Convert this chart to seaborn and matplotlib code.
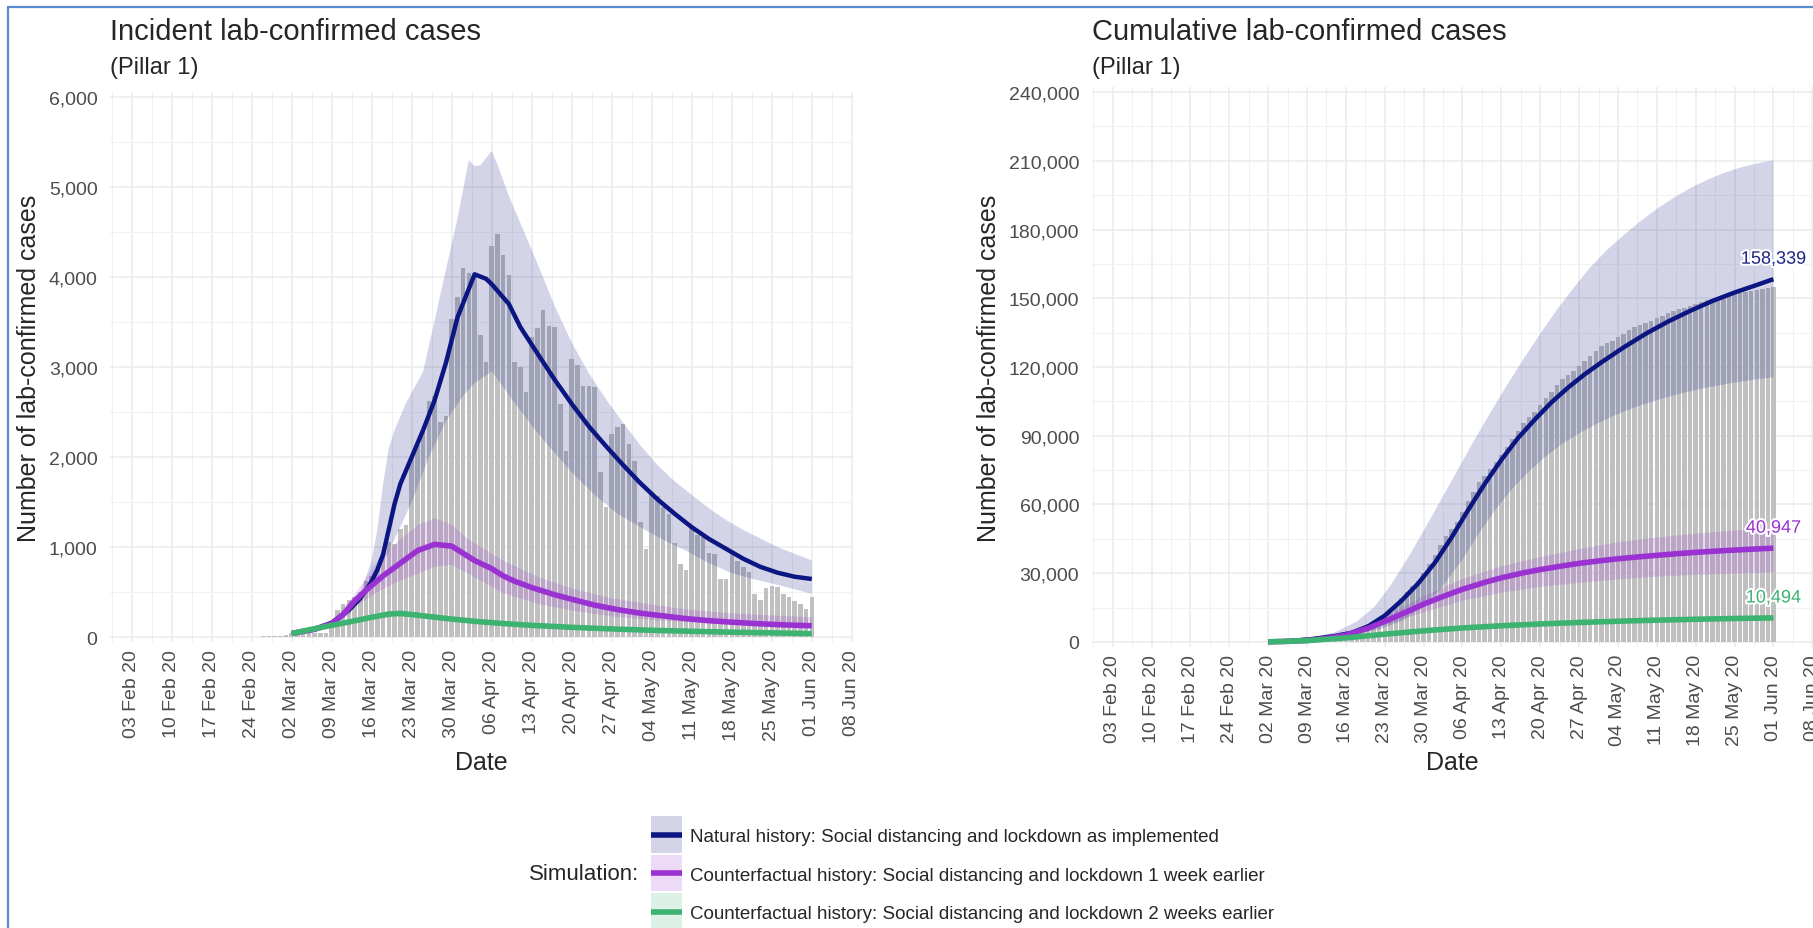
import numpy as np
import pandas as pd
import matplotlib
matplotlib.use("Agg")
import matplotlib.pyplot as plt
import matplotlib.dates as mdates
import matplotlib.patheffects as pe
from matplotlib.lines import Line2D
from matplotlib.patches import Rectangle
from matplotlib.legend_handler import HandlerBase
from matplotlib.ticker import FuncFormatter, MultipleLocator, FixedLocator
import seaborn as sns

sns.set_theme(style="whitegrid")
plt.rcParams["font.family"] = ["Liberation Sans", "DejaVu Sans"]

W, H = 1813, 929
NAVY = "#0c1682"
ORCHID = "#9a32d2"
GREEN = "#3cb371"
BAR_COLOR = "#c0c0c0"
GRID = "#ebebeb"
TICK_COLOR = "#4d4d4d"
BAND_ALPHA = 0.18

# --- observed Pillar 1 lab-confirmed cases per day, 31 Jan - 01 Jun 2020 ---
first_day = "2020-01-31"
daily_cases = [
    2, 0, 0, 1, 0, 0, 0, 1, 2, 4, 1, 0, 0, 1, 0, 0, 0, 0, 1, 0,
    0, 1, 2, 3, 5, 6, 8, 10, 12, 15, 20,
    40, 45, 50, 55, 50, 45, 50, 140, 300, 370,
    410, 450, 500, 620, 680, 760, 920, 1060, 1030, 1200,
    1240, 2000, 2130, 2280, 2620, 2680, 2390, 2460, 3530, 3775,
    4100, 4040, 4000, 3350, 3050, 4340, 4480, 4240, 4020, 3050,
    3000, 2720, 3330, 3430, 3630, 3460, 3440, 2590, 2070, 3090,
    3020, 2790, 2790, 2780, 1830, 1440, 2260, 2330, 2370, 2150,
    1960, 1280, 980, 1610, 1570, 1440, 1370, 1040, 815, 740,
    1220, 1130, 1110, 930, 920, 650, 650, 960, 850, 780,
    720, 480, 410, 540, 570, 555, 480, 445, 400, 370,
    310, 450,
]

# --- simulated incident cases (left panel) ---
nat_inc_dates = ["03-02", "03-06", "03-09", "03-12", "03-14", "03-15", "03-16", "03-17", "03-18",
                 "03-19", "03-20", "03-21", "03-22", "03-23", "03-25", "03-27", "03-29", "03-31",
                 "04-03", "04-05", "04-06", "04-09", "04-11", "04-14", "04-17", "04-20", "04-23",
                 "04-26", "04-29", "05-02", "05-05", "05-08", "05-11", "05-14", "05-17", "05-20",
                 "05-23", "05-26", "05-29", "06-01"]
nat_inc = [40, 90, 160, 300, 430, 520, 620, 750, 920,
           1200, 1480, 1700, 1850, 2000, 2300, 2630, 3050, 3550,
           4030, 3980, 3920, 3700, 3444, 3150, 2860, 2590, 2340,
           2120, 1910, 1710, 1530, 1370, 1220, 1090, 980, 870,
           780, 715, 670, 645]

nat_inc_hi_dates = ["03-02", "03-06", "03-09", "03-12", "03-14", "03-16", "03-17", "03-18", "03-19",
                    "03-20", "03-22", "03-25", "03-28", "03-31", "04-02", "04-03", "04-04", "04-06",
                    "04-07", "04-09", "04-11", "04-14", "04-17", "04-20", "04-23", "04-26", "04-29",
                    "05-02", "05-05", "05-08", "05-11", "05-14", "05-17", "05-20", "05-23", "05-26",
                    "05-29", "06-01"]
nat_inc_hi = [55, 100, 180, 330, 490, 850, 1200, 1700, 2100,
              2300, 2600, 2950, 3800, 4650, 5300, 5230, 5240, 5400,
              5250, 4900, 4600, 4150, 3680, 3270, 2930, 2640, 2380,
              2130, 1910, 1730, 1580, 1430, 1300, 1190, 1095, 1000,
              925, 850]

nat_inc_lo_dates = ["03-02", "03-06", "03-09", "03-12", "03-15", "03-19", "03-23", "03-26", "03-29",
                    "04-01", "04-03", "04-06", "04-08", "04-10", "04-13", "04-16", "04-20", "04-24",
                    "04-28", "05-02", "05-06", "05-10", "05-14", "05-18", "05-22", "05-26", "05-29",
                    "06-01"]
nat_inc_lo = [30, 65, 120, 250, 480, 950, 1500, 2000, 2400,
              2680, 2820, 2950, 2780, 2600, 2350, 2120, 1830, 1580,
              1370, 1220, 1080, 960, 820, 710, 640, 580, 530,
              480]

cf1_inc_dates = ["03-02", "03-06", "03-09", "03-11", "03-13", "03-15", "03-18", "03-21", "03-24",
                 "03-27", "03-30", "04-01", "04-03", "04-06", "04-08", "04-10", "04-13", "04-17",
                 "04-20", "04-24", "04-28", "05-02", "05-06", "05-10", "05-14", "05-18", "05-22",
                 "05-26", "06-01"]
cf1_inc = [40, 85, 150, 250, 400, 520, 680, 820, 960,
           1030, 1010, 930, 850, 760, 680, 620, 550, 470,
           420, 355, 305, 265, 235, 205, 182, 165, 150,
           138, 125]

cf1_band_dates = ["03-02", "03-09", "03-13", "03-17", "03-20", "03-24", "03-27", "03-30", "04-02",
                  "04-08", "04-14", "04-20", "04-27", "05-04", "05-11", "05-18", "05-25", "06-01"]
cf1_inc_hi = [45, 170, 470, 850, 1030, 1240, 1320, 1250, 1080,
              850, 670, 540, 430, 360, 300, 265, 240, 220]
cf1_inc_lo = [35, 130, 330, 500, 600, 700, 780, 805, 700,
              490, 370, 295, 230, 190, 160, 138, 118, 100]

cf2_inc_dates = ["03-02", "03-05", "03-09", "03-13", "03-16", "03-19", "03-21", "03-23", "03-26",
                 "03-30", "04-03", "04-08", "04-13", "04-20", "04-27", "05-04", "05-11", "05-18",
                 "05-25", "06-01"]
cf2_inc = [40, 80, 130, 180, 220, 255, 262, 250, 228,
           200, 175, 150, 130, 108, 90, 75, 64, 54,
           46, 38]
cf2_inc_hi = [45, 90, 148, 205, 250, 290, 296, 284, 260,
              228, 200, 172, 150, 125, 104, 88, 75, 64,
              55, 46]
cf2_inc_lo = [35, 70, 115, 158, 193, 224, 230, 219, 200,
              175, 153, 131, 113, 94, 78, 65, 55, 46,
              39, 32]

# --- simulated cumulative cases (right panel) ---
nat_cum_dates = ["03-02", "03-06", "03-10", "03-14", "03-17", "03-20", "03-23", "03-26", "03-29",
                 "04-01", "04-04", "04-07", "04-10", "04-13", "04-16", "04-19", "04-22", "04-25",
                 "04-28", "05-01", "05-05", "05-09", "05-13", "05-17", "05-21", "05-25", "05-29",
                 "06-01"]
nat_cum = [100, 450, 1300, 2600, 4000, 6800, 11500, 18000, 25500,
           34500, 45500, 57500, 69000, 79500, 89000, 97000, 104500, 111000,
           116800, 122000, 128500, 134500, 139800, 144500, 148800, 152500, 155800,
           158339]

nat_cum_hi_dates = ["03-02", "03-09", "03-14", "03-18", "03-21", "03-24", "03-27", "03-30", "04-02",
                    "04-05", "04-08", "04-11", "04-14", "04-17", "04-20", "04-23", "04-26", "04-29",
                    "05-02", "05-05", "05-08", "05-11", "05-14", "05-17", "05-20", "05-23", "05-26",
                    "05-29", "06-01"]
nat_cum_hi = [150, 1300, 4200, 9000, 15000, 24500, 36000, 48500, 61500,
              74500, 87500, 100000, 112000, 123500, 134500, 145000, 154500, 163500,
              171000, 177500, 183500, 189000, 193800, 198000, 201600, 204600, 207000,
              208800, 210200]

nat_cum_lo_dates = ["03-02", "03-09", "03-14", "03-18", "03-22", "03-26", "03-30", "04-02", "04-06",
                    "04-09", "04-12", "04-15", "04-18", "04-21", "04-24", "04-27", "04-30", "05-04",
                    "05-08", "05-12", "05-16", "05-20", "05-24", "05-28", "06-01"]
nat_cum_lo = [50, 700, 1800, 3300, 5500, 9000, 15500, 23000, 36000,
              47500, 58000, 67000, 74500, 81000, 86500, 91000, 95000, 99500,
              103200, 106300, 108900, 111000, 112800, 114300, 115500]

cf1_cum_dates = ["03-02", "03-06", "03-09", "03-13", "03-16", "03-20", "03-24", "03-27", "03-30",
                 "04-02", "04-06", "04-10", "04-13", "04-17", "04-20", "04-24", "04-27", "05-01",
                 "05-04", "05-08", "05-11", "05-15", "05-18", "05-22", "05-25", "05-29", "06-01"]
cf1_cum = [50, 300, 650, 1700, 3000, 6000, 10000, 13200, 16500,
           19400, 23000, 26000, 28000, 30200, 31600, 33200, 34300, 35500,
           36300, 37200, 37800, 38600, 39100, 39700, 40100, 40600, 40947]

cf1_cum_band_dates = ["03-02", "03-09", "03-16", "03-24", "03-30", "04-06", "04-13", "04-20", "04-27",
                      "05-04", "05-11", "05-18", "05-25", "06-01"]
cf1_cum_hi = [60, 800, 3600, 12000, 20000, 27500, 33000, 37000, 40500,
              43500, 45600, 47300, 48600, 49700]
cf1_cum_lo = [40, 500, 2400, 8000, 13000, 18000, 21500, 24000, 25800,
              27300, 28500, 29300, 29900, 30300]

cf2_cum_dates = ["03-02", "03-09", "03-16", "03-23", "03-30", "04-06", "04-13", "04-20", "04-27",
                 "05-04", "05-11", "05-18", "05-25", "06-01"]
cf2_cum = [40, 590, 1780, 3390, 4870, 6120, 7070, 7850, 8510,
           9050, 9510, 9900, 10240, 10494]
cf2_cum_hi = [50, 650, 1950, 3700, 5350, 6750, 7800, 8700, 9450,
              10050, 10550, 11000, 11380, 11650]
cf2_cum_lo = [30, 530, 1600, 3050, 4400, 5500, 6350, 7050, 7650,
              8150, 8550, 8900, 9200, 9400]

legend_labels = [
    "Natural history: Social distancing and lockdown as implemented",
    "Counterfactual history: Social distancing and lockdown 1 week earlier",
    "Counterfactual history: Social distancing and lockdown 2 weeks earlier",
]


def md(days):
    return pd.to_datetime(["2020-" + d for d in days])


def band(ax, hi_dates, hi, lo_dates, lo, color):
    xs = np.concatenate([mdates.date2num(md(hi_dates)), mdates.date2num(md(lo_dates))[::-1]])
    ys = np.concatenate([np.asarray(hi, float), np.asarray(lo, float)[::-1]])
    ax.fill(xs, ys, color=color, alpha=BAND_ALPHA, linewidth=0, zorder=2)


def line(ax, dates, vals, color, lw):
    sns.lineplot(x=md(dates), y=vals, ax=ax, color=color, linewidth=lw,
                 legend=False, zorder=3, solid_capstyle="butt")


class RibbonKey(HandlerBase):
    """ggplot-like key: tall translucent box with the line across its middle."""
    box_height = 26.5

    def create_artists(self, legend, orig, xdescent, ydescent, width, height, fontsize, trans):
        color = orig.get_color()
        cy = height / 2 - ydescent
        rect = Rectangle((-xdescent, cy - self.box_height / 2), width, self.box_height,
                         facecolor=color, alpha=BAND_ALPHA, edgecolor="none", transform=trans)
        ln = Line2D([-xdescent, width - xdescent], [cy, cy], color=color,
                    linewidth=4.0, solid_capstyle="butt", transform=trans)
        return [rect, ln]


bar_days = pd.date_range(first_day, periods=len(daily_cases), freq="D")
week_ticks = pd.date_range("2020-02-03", "2020-06-08", freq="7D")
week_minor = pd.date_range("2020-01-30 12:00", periods=19, freq="7D")

fig = plt.figure(figsize=(W / 100, H / 100), dpi=100)
fig.patch.set_facecolor("white")
ax1 = fig.add_axes([110 / W, 1 - 643 / H, 743 / W, 550 / H])
ax2 = fig.add_axes([1091.7 / W, 1 - 648 / H, 721.7 / W, 560 / H])

# --- left: incident ---
ax1.bar(bar_days, daily_cases, width=0.8, color=BAR_COLOR, linewidth=0, zorder=1)
band(ax1, nat_inc_hi_dates, nat_inc_hi, nat_inc_lo_dates, nat_inc_lo, NAVY)
band(ax1, cf1_band_dates, cf1_inc_hi, cf1_band_dates, cf1_inc_lo, ORCHID)
band(ax1, cf2_inc_dates, cf2_inc_hi, cf2_inc_dates, cf2_inc_lo, GREEN)
line(ax1, nat_inc_dates, nat_inc, NAVY, 3.2)
line(ax1, cf1_inc_dates, cf1_inc, ORCHID, 4.0)
line(ax1, cf2_inc_dates, cf2_inc, GREEN, 4.0)

# --- right: cumulative ---
ax2.bar(bar_days, np.cumsum(daily_cases), width=0.8, color=BAR_COLOR, linewidth=0, zorder=1)
band(ax2, nat_cum_hi_dates, nat_cum_hi, nat_cum_lo_dates, nat_cum_lo, NAVY)
band(ax2, cf1_cum_band_dates, cf1_cum_hi, cf1_cum_band_dates, cf1_cum_lo, ORCHID)
band(ax2, cf2_cum_dates, cf2_cum_hi, cf2_cum_dates, cf2_cum_lo, GREEN)
line(ax2, nat_cum_dates, nat_cum, NAVY, 3.2)
line(ax2, cf1_cum_dates, cf1_cum, ORCHID, 4.0)
line(ax2, cf2_cum_dates, cf2_cum, GREEN, 4.0)

for dates, vals, col in [(nat_cum_dates, nat_cum, "#1f2584"),
                         (cf1_cum_dates, cf1_cum, ORCHID),
                         (cf2_cum_dates, cf2_cum, GREEN)]:
    ax2.text(md(dates)[-1], vals[-1] + 8700, f"{vals[-1]:,}", color=col, ha="center",
             va="center", fontsize=13,
             path_effects=[pe.withStroke(linewidth=3, foreground="white")], zorder=6)


def style(ax, ylim, major, minor):
    ax.set_facecolor("white")
    for s in ax.spines.values():
        s.set_visible(False)
    ax.set_xlim(pd.Timestamp("2020-01-30 05:00"), pd.Timestamp("2020-06-08 05:00"))
    ax.set_ylim(*ylim)
    ax.set_xticks(week_ticks)
    ax.set_xticklabels([d.strftime("%d %b %y") for d in week_ticks], rotation=90)
    ax.xaxis.set_minor_locator(FixedLocator(mdates.date2num(week_minor)))
    ax.yaxis.set_major_locator(MultipleLocator(major))
    ax.yaxis.set_minor_locator(MultipleLocator(minor))
    ax.yaxis.set_major_formatter(FuncFormatter(lambda v, p: f"{v:,.0f}"))
    ax.grid(True, which="major", color=GRID, linewidth=1.1)
    ax.grid(True, which="minor", color="#f1f1f1", linewidth=0.75)
    ax.set_axisbelow(True)
    ax.tick_params(which="both", length=0, labelsize=14, labelcolor=TICK_COLOR)
    ax.tick_params(axis="y", pad=9)
    ax.tick_params(axis="x", pad=5)
    ax.set_xlabel("")
    ax.set_ylabel("")


style(ax1, (-55, 6055), 1000, 500)
style(ax2, (-2200, 242200), 30000, 15000)

# titles and axis titles
for x0, title in [(110, "Incident lab-confirmed cases"), (1091.7, "Cumulative lab-confirmed cases")]:
    fig.text(x0 / W, 1 - 40 / H, title, fontsize=21, va="baseline", ha="left")
    fig.text(x0 / W, 1 - 74 / H, "(Pillar 1)", fontsize=17, va="baseline", ha="left")
for xc in (29, 989):
    fig.text(xc / W, 1 - 368 / H, "Number of lab-confirmed cases", rotation=90,
             fontsize=18, ha="center", va="center")
for xc in (481, 1452):
    fig.text(xc / W, 1 - 763 / H, "Date", fontsize=18, ha="center", va="center")

# legend
handles = [Line2D([], [], color=c) for c in (NAVY, ORCHID, GREEN)]
fig.legend(handles, legend_labels, loc="center left", bbox_to_anchor=(651 / W, 1 - 876 / H),
           frameon=False, fontsize=13.5, handlelength=1.65, handleheight=0.7,
           labelspacing=1.14, handletextpad=0.45, borderpad=0, borderaxespad=0,
           handler_map={Line2D: RibbonKey()})
fig.text(639 / W, 1 - 875 / H, "Simulation:", fontsize=16, ha="right", va="center")

# screenshot frame
fig.add_artist(Line2D([8 / W, 1], [1 - 8 / H, 1 - 8 / H], transform=fig.transFigure,
                      color="#5a8ad2", linewidth=1.6))
fig.add_artist(Line2D([8 / W, 8 / W], [0, 1 - 8 / H], transform=fig.transFigure,
                      color="#5a8ad2", linewidth=1.6))

fig.savefig("out.png", dpi=100, facecolor="white")
